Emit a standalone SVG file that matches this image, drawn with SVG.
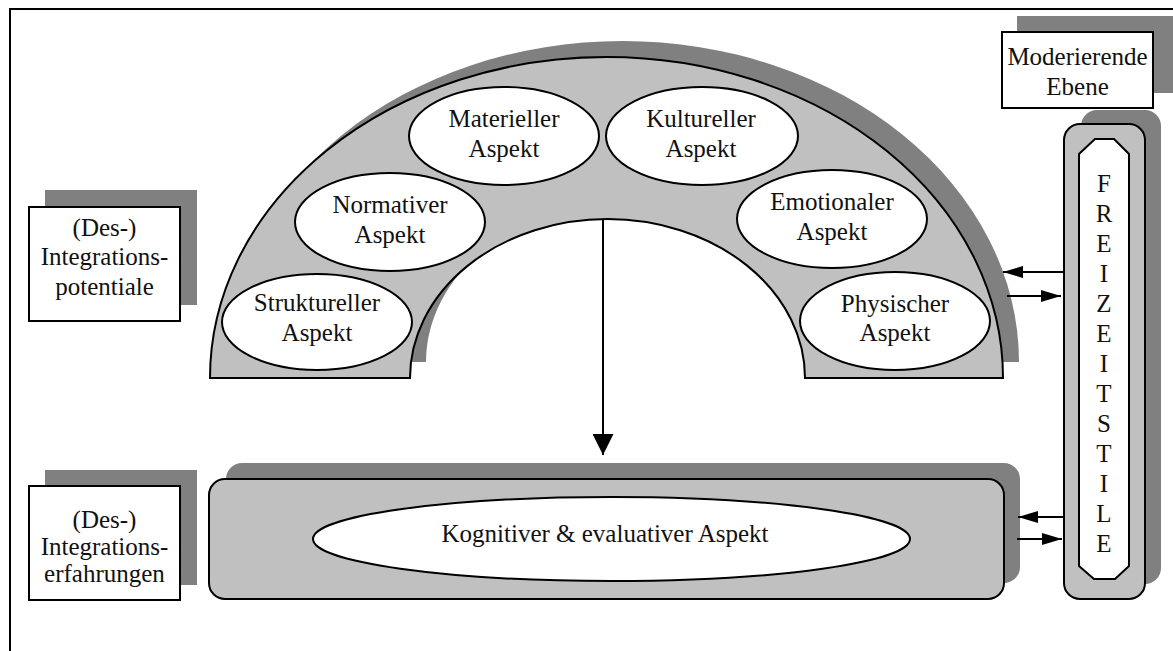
<svg xmlns="http://www.w3.org/2000/svg" width="1173" height="651" viewBox="0 0 1173 651">
<defs>
<style>
.t{font-family:'Liberation Serif','Tinos','DejaVu Serif','Times New Roman',serif;font-size:25px;fill:#111;text-anchor:middle}
.sh{fill:#808080;stroke:none}
.lg{fill:#c0c0c0;stroke:#000;stroke-width:2}
.wh{fill:#fff;stroke:#000;stroke-width:2}
.ln{stroke:#000;stroke-width:2;fill:none}
</style>
<marker id="ah" markerWidth="20" markerHeight="12" refX="20" refY="6" orient="auto" markerUnits="userSpaceOnUse"><path d="M0,0 L20,6 L0,12 Z" fill="#000"/></marker>
<marker id="ahBig" markerWidth="21" markerHeight="21" refX="21" refY="10.5" orient="auto" markerUnits="userSpaceOnUse"><path d="M0,0 L21,10.5 L0,21 Z" fill="#000"/></marker>
</defs>
<rect x="0" y="0" width="1173" height="651" fill="#fff"/>
<rect x="10" y="9" width="1200" height="700" class="ln"/>

<g id="arch">
<path class="sh" transform="translate(16,-16)" d="M210,378 A396.5,321 0 0 1 1003,378 L805,378 A197.5,159 0 0 0 410,378 Z"/>
<path class="lg" d="M210,378 A396.5,321 0 0 1 1003,378 L805,378 A197.5,159 0 0 0 410,378 Z"/>
</g>
<g id="materiell">
<ellipse class="wh" cx="504" cy="136" rx="95" ry="49"/>
<text class="t" x="504" y="127" font-family="Liberation Serif, serif">Materieller</text><text class="t" x="504" y="157">Aspekt</text>
</g>
<g id="kulturell">
<ellipse class="wh" cx="702" cy="136" rx="96" ry="49"/>
<text class="t" x="701" y="127">Kultureller</text><text class="t" x="701" y="157">Aspekt</text>
</g>
<g id="normativ">
<ellipse class="wh" cx="390" cy="222" rx="95" ry="49"/>
<text class="t" x="390" y="213">Normativer</text><text class="t" x="390" y="243">Aspekt</text>
</g>
<g id="emotional">
<ellipse class="wh" cx="832" cy="219" rx="95" ry="49"/>
<text class="t" x="832" y="210">Emotionaler</text><text class="t" x="832" y="240">Aspekt</text>
</g>
<g id="strukturell">
<ellipse class="wh" cx="317" cy="322" rx="95" ry="48"/>
<text class="t" x="317" y="311">Struktureller</text><text class="t" x="317" y="341">Aspekt</text>
</g>
<g id="physisch">
<ellipse class="wh" cx="895" cy="321" rx="95" ry="49"/>
<text class="t" x="895" y="312">Physischer</text><text class="t" x="895" y="341">Aspekt</text>
</g>

<g id="potentiale">
<rect class="sh" x="45" y="190" width="152" height="115"/>
<rect class="wh" x="29" y="207" width="151" height="114"/>
<text class="t" x="104.5" y="236">(Des-)</text><text class="t" x="104.5" y="265">Integrations-</text><text class="t" x="104.5" y="295">potentiale</text>
</g>
<g id="erfahrungen">
<rect class="sh" x="45" y="470" width="152" height="115"/>
<rect class="wh" x="29" y="486" width="151" height="114"/>
<text class="t" x="104.5" y="528">(Des-)</text><text class="t" x="104.5" y="555">Integrations-</text><text class="t" x="104.5" y="582">erfahrungen</text>
</g>
<g id="moderierend">
<rect class="sh" x="1017" y="16" width="160" height="77"/>
<rect class="wh" x="1002" y="32" width="151" height="76"/>
<text class="t" x="1077.5" y="65">Moderierende</text><text class="t" x="1077.5" y="95">Ebene</text>
</g>
<g id="kognitiv">
<rect class="sh" x="226" y="463" width="794" height="120" rx="16"/>
<rect class="lg" x="209" y="479" width="795" height="120" rx="16"/>
<ellipse class="wh" cx="611.5" cy="539" rx="298.5" ry="42"/>
<text class="t" x="605" y="542">Kognitiver &amp; evaluativer Aspekt</text>
</g>
<g id="freizeitstile">
<rect class="sh" x="1081" y="110" width="80" height="474" rx="16"/>
<rect class="lg" x="1064" y="124" width="81" height="475" rx="16"/>
<path class="wh" d="M1095,139 L1114,139 L1129,154 L1129,566 L1115,579 L1094,579 L1079,566 L1079,154 Z"/>
<text class="t" x="1104" y="192">F</text>
<text class="t" x="1104" y="222">R</text>
<text class="t" x="1104" y="252">E</text>
<text class="t" x="1104" y="282">I</text>
<text class="t" x="1104" y="312">Z</text>
<text class="t" x="1104" y="342">E</text>
<text class="t" x="1104" y="372">I</text>
<text class="t" x="1104" y="402">T</text>
<text class="t" x="1104" y="432">S</text>
<text class="t" x="1104" y="462">T</text>
<text class="t" x="1104" y="492">I</text>
<text class="t" x="1104" y="522">L</text>
<text class="t" x="1104" y="552">E</text>
</g>

<g id="connectors">
<line class="ln" x1="603" y1="220" x2="603" y2="455" marker-end="url(#ahBig)"/>
<line class="ln" x1="1063" y1="272" x2="1003" y2="272" marker-end="url(#ah)"/>
<line class="ln" x1="1007" y1="296" x2="1061" y2="296" marker-end="url(#ah)"/>
<line class="ln" x1="1064" y1="517" x2="1018" y2="517" marker-end="url(#ah)"/>
<line class="ln" x1="1017" y1="539" x2="1062" y2="539" marker-end="url(#ah)"/>
</g>
</svg>
